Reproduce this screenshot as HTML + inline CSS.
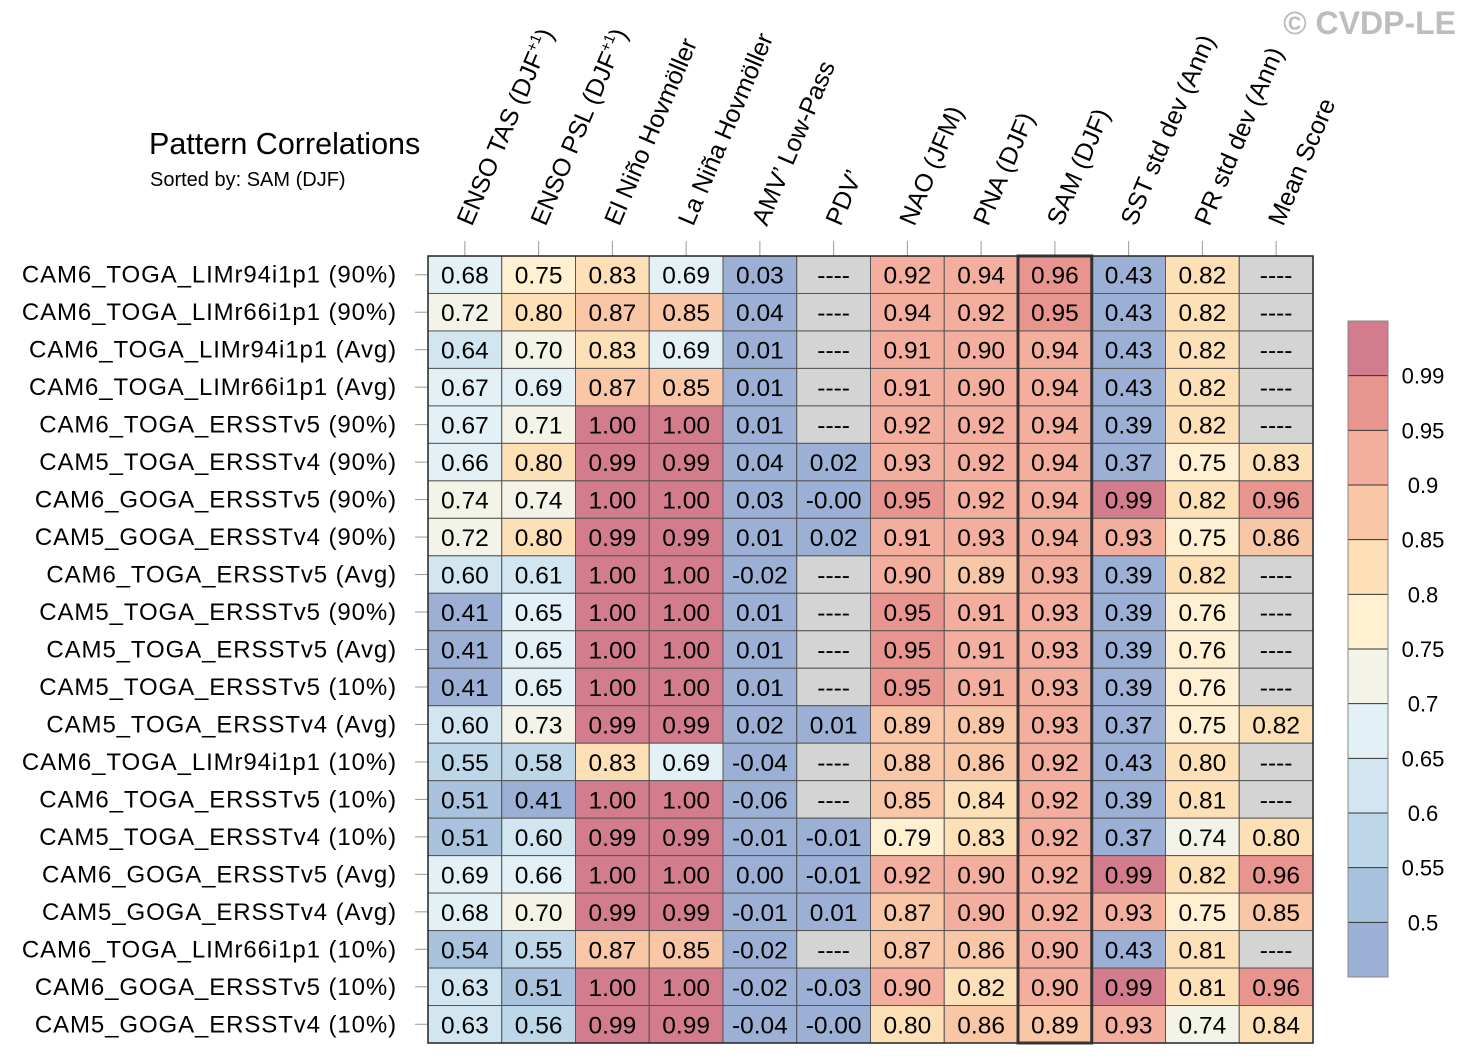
<!DOCTYPE html>
<html><head><meta charset="utf-8"><style>
html,body{margin:0;padding:0;background:#fff;}
svg{display:block;font-family:"Liberation Sans",sans-serif;}
</style></head><body>
<svg id="chart" width="1466" height="1064" viewBox="0 0 1466 1064" xmlns="http://www.w3.org/2000/svg">
<text x="149" y="154" font-size="30.5">Pattern Correlations</text>
<text x="150" y="186" font-size="20">Sorted by: SAM (DJF)</text>
<text x="1456" y="34" font-size="32" font-weight="bold" fill="#bdbdbd" text-anchor="end">© CVDP-LE</text>
<g id="grid"></g>
<g id="cbar"></g>
</svg>
<script>
const columns = ["ENSO TAS (DJF","ENSO PSL (DJF","El Niño Hovmöller","La Niña Hovmöller","AMV’ Low-Pass","PDV’","NAO (JFM)","PNA (DJF)","SAM (DJF)","SST std dev (Ann)","PR std dev (Ann)","Mean Score"];
const rowsLabels = ["CAM6_TOGA_LIMr94i1p1 (90%)","CAM6_TOGA_LIMr66i1p1 (90%)","CAM6_TOGA_LIMr94i1p1 (Avg)","CAM6_TOGA_LIMr66i1p1 (Avg)","CAM6_TOGA_ERSSTv5 (90%)","CAM5_TOGA_ERSSTv4 (90%)","CAM6_GOGA_ERSSTv5 (90%)","CAM5_GOGA_ERSSTv4 (90%)","CAM6_TOGA_ERSSTv5 (Avg)","CAM5_TOGA_ERSSTv5 (90%)","CAM5_TOGA_ERSSTv5 (Avg)","CAM5_TOGA_ERSSTv5 (10%)","CAM5_TOGA_ERSSTv4 (Avg)","CAM6_TOGA_LIMr94i1p1 (10%)","CAM6_TOGA_ERSSTv5 (10%)","CAM5_TOGA_ERSSTv4 (10%)","CAM6_GOGA_ERSSTv5 (Avg)","CAM5_GOGA_ERSSTv4 (Avg)","CAM6_TOGA_LIMr66i1p1 (10%)","CAM6_GOGA_ERSSTv5 (10%)","CAM5_GOGA_ERSSTv4 (10%)"];
const values = [
["0.68","0.75","0.83","0.69","0.03","----","0.92","0.94","0.96","0.43","0.82","----"],
["0.72","0.80","0.87","0.85","0.04","----","0.94","0.92","0.95","0.43","0.82","----"],
["0.64","0.70","0.83","0.69","0.01","----","0.91","0.90","0.94","0.43","0.82","----"],
["0.67","0.69","0.87","0.85","0.01","----","0.91","0.90","0.94","0.43","0.82","----"],
["0.67","0.71","1.00","1.00","0.01","----","0.92","0.92","0.94","0.39","0.82","----"],
["0.66","0.80","0.99","0.99","0.04","0.02","0.93","0.92","0.94","0.37","0.75","0.83"],
["0.74","0.74","1.00","1.00","0.03","-0.00","0.95","0.92","0.94","0.99","0.82","0.96"],
["0.72","0.80","0.99","0.99","0.01","0.02","0.91","0.93","0.94","0.93","0.75","0.86"],
["0.60","0.61","1.00","1.00","-0.02","----","0.90","0.89","0.93","0.39","0.82","----"],
["0.41","0.65","1.00","1.00","0.01","----","0.95","0.91","0.93","0.39","0.76","----"],
["0.41","0.65","1.00","1.00","0.01","----","0.95","0.91","0.93","0.39","0.76","----"],
["0.41","0.65","1.00","1.00","0.01","----","0.95","0.91","0.93","0.39","0.76","----"],
["0.60","0.73","0.99","0.99","0.02","0.01","0.89","0.89","0.93","0.37","0.75","0.82"],
["0.55","0.58","0.83","0.69","-0.04","----","0.88","0.86","0.92","0.43","0.80","----"],
["0.51","0.41","1.00","1.00","-0.06","----","0.85","0.84","0.92","0.39","0.81","----"],
["0.51","0.60","0.99","0.99","-0.01","-0.01","0.79","0.83","0.92","0.37","0.74","0.80"],
["0.69","0.66","1.00","1.00","0.00","-0.01","0.92","0.90","0.92","0.99","0.82","0.96"],
["0.68","0.70","0.99","0.99","-0.01","0.01","0.87","0.90","0.92","0.93","0.75","0.85"],
["0.54","0.55","0.87","0.85","-0.02","----","0.87","0.86","0.90","0.43","0.81","----"],
["0.63","0.51","1.00","1.00","-0.02","-0.03","0.90","0.82","0.90","0.99","0.81","0.96"],
["0.63","0.56","0.99","0.99","-0.04","-0.00","0.80","0.86","0.89","0.93","0.74","0.84"]];
const levels = [0.5,0.55,0.6,0.65,0.7,0.75,0.8,0.85,0.9,0.95,0.99];
const levelLabels = ["0.5","0.55","0.6","0.65","0.7","0.75","0.8","0.85","0.9","0.95","0.99"];
const palette = ["#9cafd4","#a9c2dd","#bdd7e9","#d1e6f0","#e3f1f6","#f4f3e8","#fef0d0","#fde0b6","#f9c7a6","#f3ae9d","#e8948f","#d27c8e"];

const NS="http://www.w3.org/2000/svg";
const X0=428,X1=1313,Y0=256,Y1=1043;
const cw=(X1-X0)/columns.length, rh=(Y1-Y0)/rowsLabels.length;
const colX=i=>X0+i*cw, rowY=j=>Y0+j*rh;
function colorFor(s){
  if(s==="----") return "#d4d4d4";
  const v=parseFloat(s); let k=0;
  for(let i=0;i<levels.length;i++){ if(v>=levels[i]-1e-9) k=i+1; }
  return palette[k];
}
function mk(tag,attrs,parent){const e=document.createElementNS(NS,tag);for(const a in attrs)e.setAttribute(a,attrs[a]);parent.appendChild(e);return e;}
const g=document.getElementById('grid');
values.forEach((row,j)=>{
  row.forEach((s,i)=>{
    const r=mk('rect',{x:colX(i),y:rowY(j),width:cw,height:rh,fill:colorFor(s),stroke:"#555","stroke-width":1},g);
    
    
    const t=mk('text',{x:colX(i)+cw/2,y:rowY(j)+rh/2+9,"font-size":24.5,"text-anchor":"middle",fill:"#000"},g);
    t.textContent=s;
    
    
  });
});
rowsLabels.forEach((lab,j)=>{
  const t=mk('text',{x:397,y:rowY(j)+rh/2+8,"font-size":24,"letter-spacing":0.9,"text-anchor":"end"},g);
  t.textContent=lab;
  
  
  const tk=mk('line',{x1:415,x2:X0,y1:rowY(j)+rh/2,y2:rowY(j)+rh/2,stroke:"#999","stroke-width":1},g);
  
  
});
columns.forEach((lab,i)=>{
  const cx=colX(i)+cw/2;
  const tk=mk('line',{x1:cx,x2:cx,y1:241,y2:Y0,stroke:"#999","stroke-width":1},g);
  
  
  const t=mk('text',{x:0,y:0,"font-size":25,transform:`translate(${cx+7},227) rotate(-67)`},g);
  t.textContent=lab;
  if(i<2){
    const sup=mk('tspan',{"font-size":15,dy:-10},t); sup.textContent="+1";
    const cl=mk('tspan',{dy:10},t); cl.textContent=")";
  }
  
  
});
const ob=mk('rect',{x:X0,y:Y0,width:X1-X0,height:Y1-Y0,fill:"none",stroke:"#222","stroke-width":1.5},g);


const hl=mk('rect',{x:colX(8),y:Y0,width:cw,height:Y1-Y0,fill:"none",stroke:"#333","stroke-width":3},g);



const cb=document.getElementById('cbar');
const CBX=1348,CBW=40,CBT=321,CBB=977;
const bh=(CBB-CBT)/palette.length;
palette.forEach((c,k)=>{
  const y=CBB-(k+1)*bh;
  const r=mk('rect',{x:CBX,y:y,width:CBW,height:bh,fill:c,stroke:"none"},cb);
  
  
});
levels.forEach((v,k)=>{
  const y=CBB-(k+1)*bh;
  const l=mk('line',{x1:CBX,x2:CBX+CBW,y1:y,y2:y,stroke:"#333","stroke-width":1},cb);
  
  
  const t=mk('text',{x:1423,y:y+8,"font-size":22,"text-anchor":"middle"},cb);
  t.textContent=levelLabels[k];
  
  
});
const cbo=mk('rect',{x:CBX,y:CBT,width:CBW,height:CBB-CBT,fill:"none",stroke:"#888","stroke-width":1},cb);


</script>
</body></html>
